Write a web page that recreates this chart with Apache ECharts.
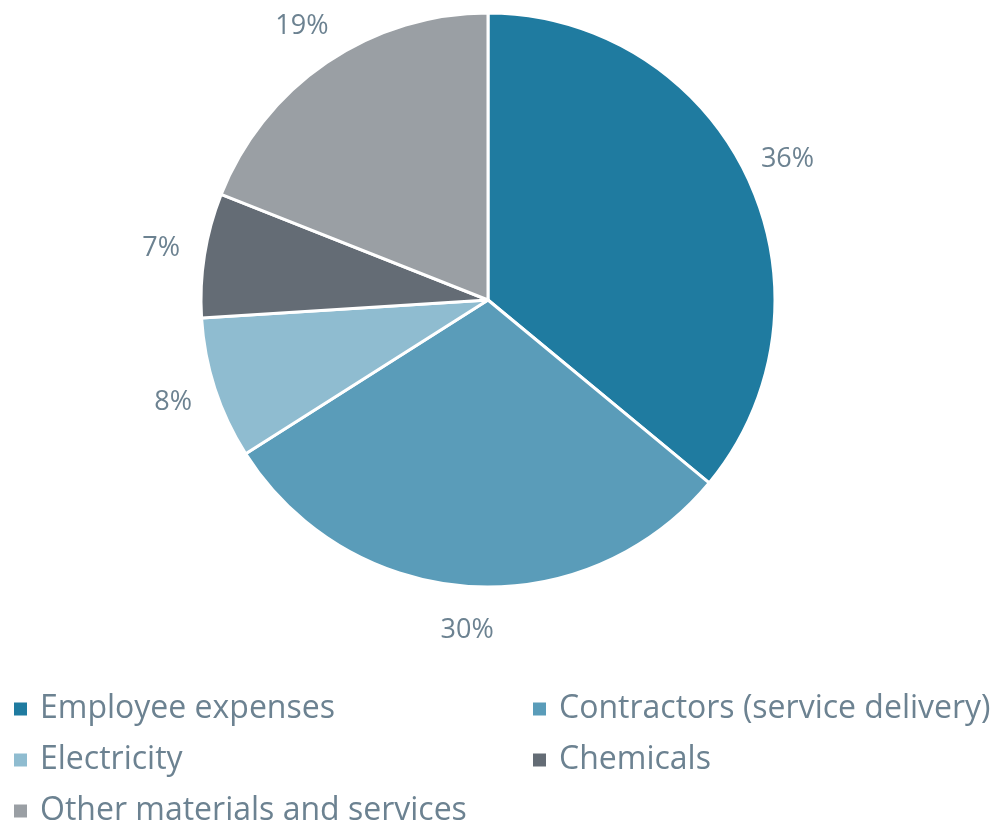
<!DOCTYPE html>
<html>
<head>
<meta charset="utf-8">
<style>
  html, body { margin: 0; padding: 0; background: #fff; }
  #chart { width: 992px; height: 821px; }
</style>
<script src="https://cdn.jsdelivr.net/npm/echarts@6/dist/echarts.min.js"></script>
</head>
<body>
<div id="chart"></div>
<script>
var categories = ['Employee expenses', 'Contractors (service delivery)', 'Electricity', 'Chemicals', 'Other materials and services'];
var shares = [36, 30, 8, 7, 19];
var colors = ['#1f7ba0', '#5a9cb9', '#8fbcd0', '#646c75', '#9a9fa4'];
var leftLegend = ['Employee expenses', 'Electricity', 'Other materials and services'];
var rightLegend = ['Contractors (service delivery)', 'Chemicals'];

var textColor = '#6c8291';
var font = '"Open Sans", sans-serif';

var pieData = categories.map(function (name, i) {
	return { name: name, value: shares[i], itemStyle: { color: colors[i] } };
});

var chart = echarts.init(document.getElementById('chart'));

function legendCol(data, left) {
	return {
		data: data,
		orient: 'vertical',
		left: left,
		top: 693,
		height: 200,
		padding: 0,
		icon: 'rect',
		itemWidth: 15,
		itemHeight: 15,
		itemGap: 19,
		selectedMode: false,
		textStyle: { color: textColor, fontSize: 32, fontFamily: font, padding: [0, 0, 0, 7] }
	};
}

chart.setOption({
	animation: false,
	legend: [legendCol(leftLegend, 12), legendCol(rightLegend, 531)],
	series: [
		{
			// visible pie
			type: 'pie',
			center: [488, 300],
			radius: [0, 287],
			startAngle: 90,
			clockwise: true,
			silent: true,
			label: { show: false },
			labelLine: { show: false },
			itemStyle: { borderColor: '#fff', borderWidth: 3 },
			data: pieData
		},
		{
			// transparent ring, only to hold the percent labels outside the pie
			type: 'pie',
			center: [488, 300],
			radius: [287, 369],
			startAngle: 90,
			clockwise: true,
			silent: true,
			emphasis: { disabled: true },
			itemStyle: { color: 'rgba(0,0,0,0)' },
			label: {
				show: true,
				position: 'inside',
				formatter: '{c}%',
				color: textColor,
				fontSize: 27,
				fontFamily: font
			},
			labelLine: { show: false },
			data: categories.map(function (name, i) { return { name: name, value: shares[i] }; })
		}
	]
});
</script>
</body>
</html>
